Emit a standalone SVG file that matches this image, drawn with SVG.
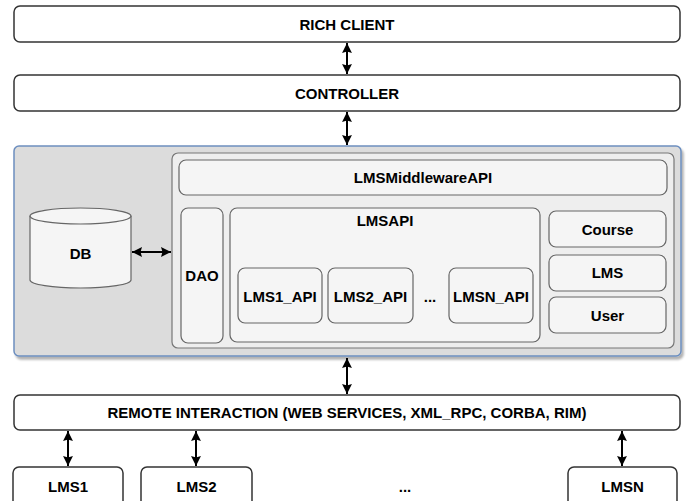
<svg xmlns="http://www.w3.org/2000/svg" width="687" height="501" viewBox="0 0 687 501">
  <defs>
    <marker id="ah" viewBox="0 0 10 10" refX="10" refY="5" markerWidth="10" markerHeight="11" markerUnits="userSpaceOnUse" orient="auto-start-reverse" preserveAspectRatio="none">
      <path d="M0,0.5 L10,5 L0,9.5 L1.5,5 Z" fill="#000"/>
    </marker>
    <filter id="sh" x="-5%" y="-5%" width="110%" height="115%">
      <feDropShadow dx="2" dy="3" stdDeviation="1" flood-color="#000" flood-opacity="0.3"/>
    </filter>
  </defs>
  <style>
    text { font-family: "Liberation Sans", Arial, Helvetica, sans-serif; font-weight: bold; font-size: 15px; fill: #000; text-anchor: middle; dominant-baseline: central; }
    .w { fill: #ffffff; stroke: #333333; stroke-width: 1.5; }
    .in { fill: #f5f5f5; stroke: #666666; stroke-width: 1.2; }
    .mid { fill: #eeeeee; stroke: #777777; stroke-width: 1.2; }
    .outer { fill: #dcdcdc; stroke: #6c8ebf; stroke-width: 1.5; }
    .conn line { stroke: #000; stroke-width: 2; marker-start: url(#ah); marker-end: url(#ah); }
  </style>
  <rect width="687" height="501" fill="#ffffff"/>

  <g id="rich-client">
    <rect class="w" x="14" y="6" width="666" height="36" rx="6"/>
    <text x="347" y="24">RICH CLIENT</text>
  </g>
  <g id="controller">
    <rect class="w" x="14" y="75" width="666" height="36" rx="6"/>
    <text x="347" y="93">CONTROLLER</text>
  </g>

  <g id="middleware-container">
    <rect class="outer" x="14" y="146" width="667" height="210" rx="5" filter="url(#sh)"/>
  </g>
  <g id="middleware-inner">
    <rect class="mid" x="172" y="153" width="502" height="195" rx="6"/>
  </g>
  <g id="lmsmiddlewareapi">
    <rect class="in" x="179" y="160" width="488" height="35" rx="7"/>
    <text x="423" y="177.5">LMSMiddlewareAPI</text>
  </g>
  <g id="db">
    <path class="in" d="M30,216 L30,280 A50.5,8 0 0 0 131,280 L131,216"/>
    <ellipse class="in" cx="80.5" cy="216" rx="50.5" ry="8"/>
    <text x="80.5" y="253">DB</text>
  </g>
  <g id="dao">
    <rect class="in" x="181" y="208" width="42" height="135" rx="7"/>
    <text x="202" y="275">DAO</text>
  </g>
  <g id="lmsapi">
    <rect class="in" x="230" y="208" width="310" height="134" rx="7"/>
    <text x="385" y="220">LMSAPI</text>
  </g>
  <g id="lms1-api">
    <rect class="in" x="238" y="268" width="84" height="55" rx="7"/>
    <text x="280" y="296">LMS1_API</text>
  </g>
  <g id="lms2-api">
    <rect class="in" x="328" y="268" width="85" height="55" rx="7"/>
    <text x="370.5" y="296">LMS2_API</text>
  </g>
  <g id="api-ellipsis">
    <text x="430" y="296">...</text>
  </g>
  <g id="lmsn-api">
    <rect class="in" x="449" y="268" width="84" height="55" rx="7"/>
    <text x="491" y="296">LMSN_API</text>
  </g>
  <g id="course">
    <rect class="in" x="549" y="211" width="117" height="36" rx="7"/>
    <text x="607.5" y="229">Course</text>
  </g>
  <g id="lms">
    <rect class="in" x="549" y="255" width="117" height="36" rx="7"/>
    <text x="607.5" y="272">LMS</text>
  </g>
  <g id="user">
    <rect class="in" x="549" y="297" width="117" height="36" rx="7"/>
    <text x="607.5" y="315">User</text>
  </g>

  <g id="remote-interaction">
    <rect class="w" x="14" y="395" width="666" height="35" rx="6"/>
    <text x="347" y="412.5">REMOTE INTERACTION (WEB SERVICES, XML_RPC, CORBA, RIM)</text>
  </g>
  <g id="lms1">
    <rect class="w" x="13" y="467" width="110" height="44" rx="6"/>
    <text x="68" y="486">LMS1</text>
  </g>
  <g id="lms2">
    <rect class="w" x="141" y="467" width="111" height="44" rx="6"/>
    <text x="196.5" y="486">LMS2</text>
  </g>
  <g id="lms-ellipsis">
    <text x="405" y="486">...</text>
  </g>
  <g id="lmsn">
    <rect class="w" x="568" y="467" width="109" height="44" rx="6"/>
    <text x="622.5" y="486">LMSN</text>
  </g>

  <g id="connectors" class="conn">
    <line x1="347" y1="43" x2="347" y2="74"/>
    <line x1="347" y1="112" x2="347" y2="145"/>
    <line x1="132" y1="252" x2="171" y2="252"/>
    <line x1="347" y1="358" x2="347" y2="394"/>
    <line x1="68" y1="431" x2="68" y2="466"/>
    <line x1="196" y1="431" x2="196" y2="466"/>
    <line x1="622" y1="431" x2="622" y2="466"/>
  </g>
</svg>
